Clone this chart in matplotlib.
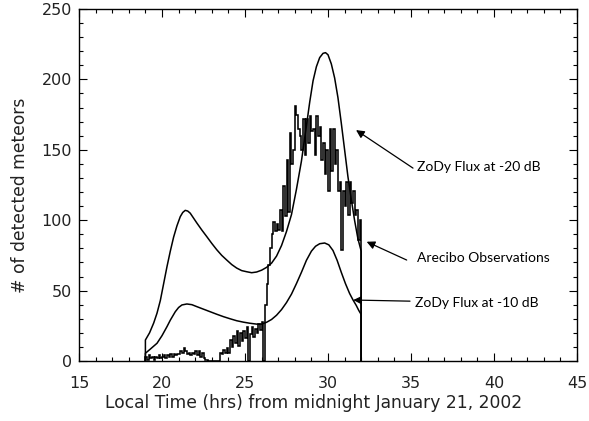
import numpy as np
import matplotlib
matplotlib.use("Agg")
import matplotlib.pyplot as plt
from matplotlib.ticker import MultipleLocator

# ---- Arecibo observations: histogram, 0.1-hr bins starting at 19.0 h ----
obs_bin_start = 19.0
obs_bin_width = 0.1
obs_counts = [
    3, 1, 4, 2, 3, 1, 3, 2, 4, 2,            # 19.x
    3, 4, 2, 4, 3, 5, 3, 5, 4, 5,            # 20.x
    5, 7, 6, 9, 7, 5, 6, 4, 6, 5,            # 21.x
    7, 4, 7, 3, 6, 2, 1, 1, 0, 0,            # 22.x
    0, 0, 0, 0, 0, 6, 5, 8, 6, 9,            # 23.x
    6, 15, 10, 18, 13, 21, 11, 20, 14, 21,   # 24.x
    16, 24, 0, 19, 24, 17, 23, 20, 26, 22,   # 25.x
    28, 0, 40, 55, 68, 80, 90, 99, 92, 97,   # 26.x
    93, 107, 92, 124, 103, 143, 106, 162, 140, 150,   # 27.x
    181, 175, 165, 160, 150, 172, 146, 172, 155, 174, # 28.x
    163, 165, 146, 174, 160, 166, 143, 155, 133, 150, # 29.x
    121, 165, 135, 165, 140, 150, 121, 127, 79, 121,  # 30.x
    110, 127, 104, 127, 112, 121, 104, 107, 86, 100,  # 31.x
]

# ---- ZoDy model flux at -20 dB ----
zody20_hours = [19.0, 19.0, 19.25, 19.5, 19.7, 19.9, 20.1, 20.3, 20.5, 20.7,
                20.9, 21.1, 21.25, 21.4, 21.55, 21.7, 21.9, 22.1, 22.4, 22.7,
                23.0, 23.3, 23.6, 23.9, 24.2, 24.5, 24.8, 25.1, 25.4, 25.7,
                26.0, 26.3, 26.6, 26.9, 27.2, 27.5, 27.8, 28.1, 28.4, 28.7,
                28.9, 29.1, 29.3, 29.5, 29.7, 29.85, 30.0, 30.2, 30.4, 30.6,
                30.8, 31.0, 31.2, 31.4, 31.6, 31.8, 32.0, 32.0]
zody20_vals = [0, 14.9, 20, 27, 34, 43, 55, 67, 78, 88,
               96, 102.5, 105.5, 107, 106.5, 105, 101.5, 98, 93, 88.3,
               83.5, 79, 75, 71.7, 68.5, 66, 64.2, 63.4, 62.7, 63.2,
               64.5, 66.5, 69.5, 74.5, 82, 92, 104, 122, 142, 167,
               184, 199, 209, 215.5, 218.5, 219, 217.5, 211, 201, 187,
               169, 150, 131, 115, 100, 87, 78, 0]

# ---- ZoDy model flux at -10 dB ----
zody10_hours = [19.0, 19.0, 19.3, 19.7, 20.0, 20.3, 20.5, 20.8, 21.0, 21.2,
                21.5, 21.8, 22.1, 22.5, 22.9, 23.3, 23.7, 24.1, 24.5, 24.9,
                25.3, 25.7, 26.0, 26.3, 26.6, 26.9, 27.2, 27.5, 27.8, 28.1,
                28.4, 28.7, 29.0, 29.25, 29.5, 29.8, 30.05, 30.3, 30.55, 30.8,
                31.05, 31.3, 31.5, 31.7, 31.85, 32.0, 32.0]
zody10_vals = [0, 5.5, 8.5, 12.6, 18, 24.4, 29, 35, 38, 39.8,
               40.5, 40, 38.6, 36.8, 35, 33.2, 31.5, 30, 28.6, 27.6,
               26.8, 26.2, 26.2, 27.5, 29.5, 32.5, 36.5, 41.5, 47.5, 55,
               63, 71.5, 78, 81.5, 83.3, 83.8, 82.5, 78.5, 71.5, 63,
               55, 48, 43.5, 39.5, 36, 33, 0]

x_ticks = [15, 20, 25, 30, 35, 40, 45]
y_ticks = [0, 50, 100, 150, 200, 250]

fig = plt.figure(figsize=(5.89, 4.21), dpi=100)
ax = fig.add_axes([79/589, 1-361/421, 498/589, 352/421])

edges = obs_bin_start + obs_bin_width * np.arange(len(obs_counts) + 1)
ax.stairs(obs_counts, edges, baseline=0, color="black", lw=1.15)
ax.plot(zody20_hours, zody20_vals, color="black", lw=1.1)
ax.plot(zody10_hours, zody10_vals, color="black", lw=1.1)

ax.set_xlim(15, 45)
ax.set_ylim(0, 250)
ax.set_xticks(x_ticks)
ax.set_yticks(y_ticks)
ax.xaxis.set_minor_locator(MultipleLocator(1))
ax.yaxis.set_minor_locator(MultipleLocator(10))
ax.tick_params(which="both", direction="in", top=True, right=True,
               width=0.8, color="black")
ax.tick_params(which="major", length=6)
ax.tick_params(which="minor", length=3)
ax.tick_params(axis="x", which="major", pad=11, labelsize=11.5,
               labelcolor="#222222")
ax.tick_params(axis="y", which="major", pad=5, labelsize=11.5,
               labelcolor="#222222")
for s in ax.spines.values():
    s.set_linewidth(1.0)

ax.set_xlabel("Local Time (hrs) from midnight January 21, 2002",
              fontsize=12.3, va="center", color="#222222")
ax.xaxis.set_label_coords(0.472, (361-403)/352)
ax.set_ylabel("# of detected meteors", fontsize=12.3, va="center",
              color="#222222")
ax.yaxis.set_label_coords((20-79)/498, 0.47)

afont = dict(family="Lato", fontsize=10, va="center", ha="left")
arrow = dict(arrowstyle="-|>", color="black", lw=0.9,
             mutation_scale=12, shrinkA=0, shrinkB=0)
ax.annotate("", xy=(31.69, 164), xytext=(35.12, 137), arrowprops=arrow)
ax.text(35.35, 138, "ZoDy Flux at -20 dB", **afont)
ax.annotate("", xy=(32.33, 84.7), xytext=(34.74, 71.7), arrowprops=arrow)
ax.text(35.35, 73, "Arecibo Observations", **afont)
ax.annotate("", xy=(31.52, 43.3), xytext=(34.94, 42.5), arrowprops=arrow)
ax.text(35.25, 41.4, "ZoDy Flux at -10 dB", **afont)

fig.savefig("out.png", dpi=100)
